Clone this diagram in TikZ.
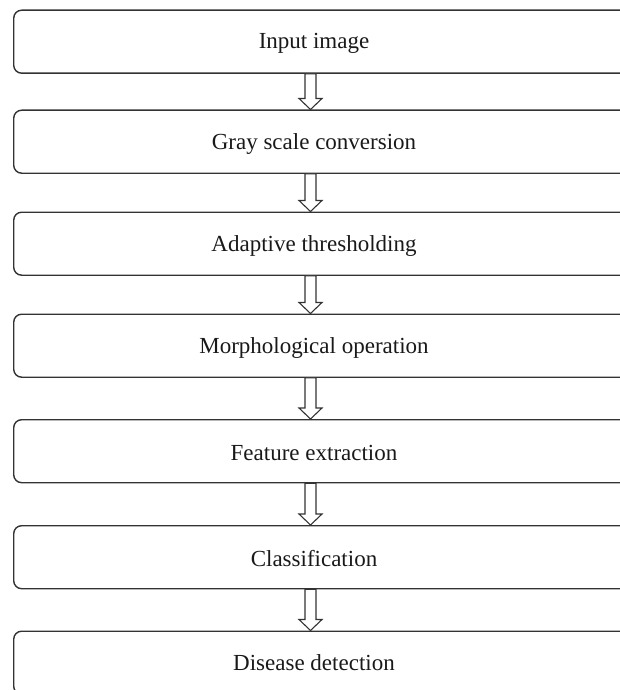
\documentclass[tikz,border=0pt]{standalone}
\usepackage{fontspec}
\setmainfont{Liberation Serif}
\usetikzlibrary{calc}
\newcommand\hollowarrow[2]{%
  \draw[blockarrow] ($(#1.south west)+(292,0)$) -- ($(#2.north west)+(292,-11)$)
    -- ($(#2.north west)+(286,-11)$) -- ($(#2.north west)+(297.5,0)$)
    -- ($(#2.north west)+(309,-11)$) -- ($(#2.north west)+(303,-11)$)
    -- ($(#1.south west)+(303,0)$) -- cycle;}
\begin{document}
\begin{tikzpicture}[x=1pt,y=-1pt,
  stagebox/.style={draw=black!80, line width=1.4pt, rounded corners=8pt,
    minimum width=625pt, minimum height=63pt, anchor=north west, inner sep=0pt},
  stagetext/.style={font=\fontsize{23}{27}\selectfont, text=black!90, inner sep=0pt},
  blockarrow/.style={draw=black!80, line width=1.1pt, fill=white, line join=miter}]
\useasboundingbox (0,0) rectangle (619,690);
\node[stagebox] (b1) at (13,9.5) {};
\node[stagebox] (b2) at (13,109.5) {};
\node[stagebox] (b3) at (13,211.5) {};
\node[stagebox] (b4) at (13,313.5) {};
\node[stagebox] (b5) at (13,419) {};
\node[stagebox] (b6) at (13,525) {};
\node[stagebox] (b7) at (13,630.5) {};
\node[stagetext] (t1) at ($(b1.west)+(301,2)$) {Input image};
\node[stagetext] (t2) at ($(b2.west)+(301,2)$) {Gray scale conversion};
\node[stagetext] (t3) at ($(b3.west)+(301,2)$) {Adaptive thresholding};
\node[stagetext] (t4) at ($(b4.west)+(301,2)$) {Morphological operation};
\node[stagetext] (t5) at ($(b5.west)+(301,2)$) {Feature extraction};
\node[stagetext] (t6) at ($(b6.west)+(301,1)$) {Classification};
\node[stagetext] (t7) at ($(b7.west)+(301,0)$) {Disease detection};
\hollowarrow{b1}{b2}
\hollowarrow{b2}{b3}
\hollowarrow{b3}{b4}
\hollowarrow{b4}{b5}
\hollowarrow{b5}{b6}
\hollowarrow{b6}{b7}
\end{tikzpicture}
\end{document}
